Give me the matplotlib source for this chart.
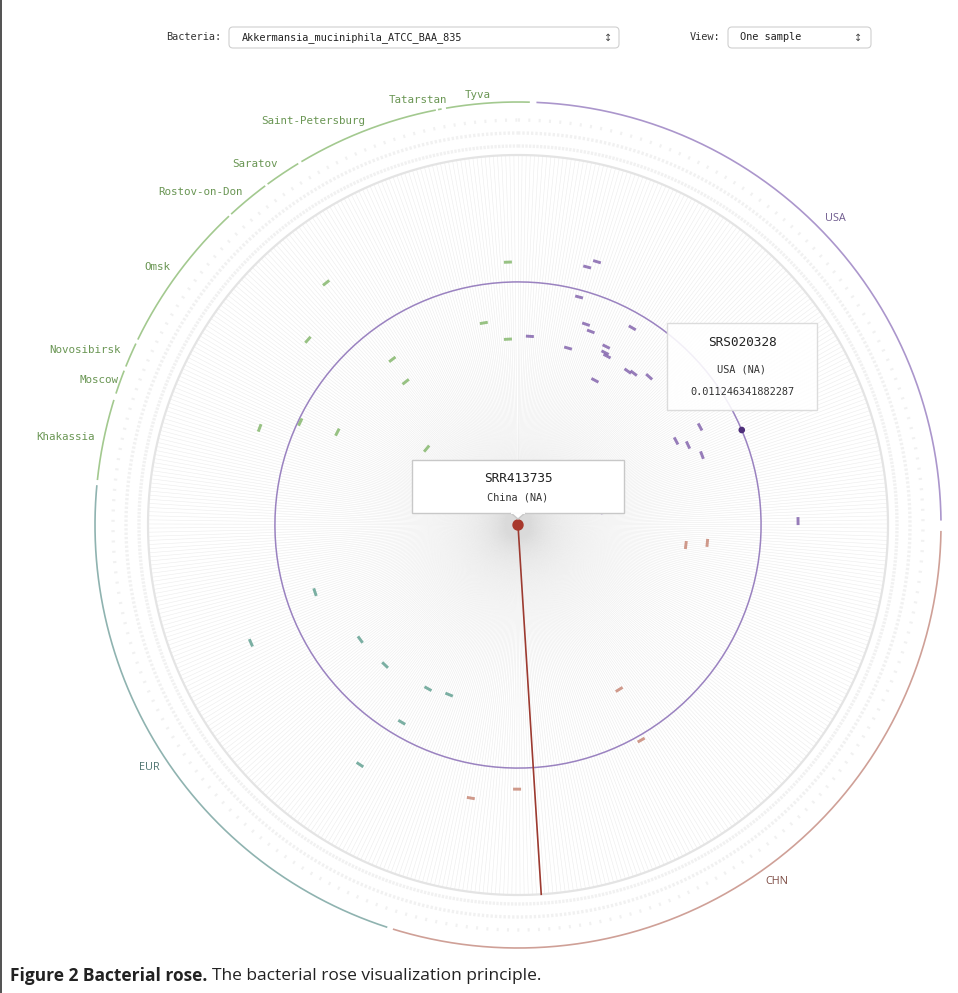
import matplotlib
matplotlib.use("Agg")
import matplotlib.pyplot as plt
import numpy as np
from matplotlib.patches import FancyBboxPatch, Polygon, Circle

# ── data ────────────────────────────────────────────────────────────────────
# outer region arcs (compass degrees, clockwise from top)
region_names  = ["USA", "CHN", "EUR"]
region_start  = [2.5, 90.8, 198.0]
region_end    = [89.4, 197.2, 275.4]
region_colors = ["#ab96cc", "#cfa097", "#8fb3b0"]
region_text   = ["#6e5a8e", "#7d4c44", "#4f7470"]

city_names = ["Khakassia", "Moscow", "Novosibirsk", "Omsk", "Rostov-on-Don",
              "Saratov", "Saint-Petersburg", "Tatarstan", "Tyva"]
city_start = [276.1, 288.1, 292.0, 296.0, 317.3, 323.7, 329.2, 349.1, 350.2]
city_end   = [287.2, 291.4, 295.4, 316.9, 323.3, 328.7, 348.8, 349.6, 361.6]

# samples per region (spokes)
n_samples = [150, 175, 130, 110]

# abundance marks: angle (deg) and radial level (fraction of spoke radius)
green_ang  = [357.8, 350.4, 356.9, 322.8, 321.9, 321.6, 311.4, 290.6, 295.3, 297.2, 309.9]
green_lvl  = [0.711, 0.554, 0.503, 0.562, 0.492, 0.835, 0.757, 0.746, 0.651, 0.549, 0.322]
purple_ang = [16.7, 15.0, 15.0, 18.7, 20.6, 3.6, 15.8, 30.1, 26.3, 26.8, 27.8,
              28.0, 35.5, 37.3, 41.5, 62.0, 64.8, 69.2, 61.7, 31.4, 32.2, 80.0, 89.2]
purple_lvl = [0.743, 0.722, 0.638, 0.573, 0.559, 0.511, 0.497, 0.616, 0.538, 0.522, 0.516,
              0.443, 0.511, 0.516, 0.535, 0.484, 0.508, 0.532, 0.559, 0.186, 0.196, 0.230, 0.757]
brown_ang  = [96.8, 95.4, 148.4, 150.2, 180.2, 189.8]
brown_lvl  = [0.457, 0.514, 0.522, 0.670, 0.714, 0.749]
teal_ang   = [251.7, 246.2, 234.0, 223.5, 208.8, 202.1, 210.5, 213.4]
teal_lvl   = [0.578, 0.789, 0.527, 0.522, 0.505, 0.495, 0.619, 0.776]

selected_ang, selected_lvl = 176.4, 1.0      # SRR413735, China
hover_ang, hover_lvl = 67.0, 0.657           # SRS020328, USA
ref_level = 0.657                             # purple reference circle

# ── geometry ────────────────────────────────────────────────────────────────
CX, CY = 518, 525
R_SPOKE, R_OUTER = 370, 423


def pol(ang, r):
    a = np.radians(ang)
    return CX + r * np.sin(a), CY - r * np.cos(a)


def arc(ax, a0, a1, r, **kw):
    t = np.linspace(a0, a1, 300)
    x, y = pol(t, r)
    ax.plot(x, y, solid_capstyle="butt", **kw)


fig = plt.figure(figsize=(9.58, 9.93), dpi=100)
ax = fig.add_axes([0, 0, 1, 1])
ax.set_xlim(0, 958)
ax.set_ylim(993, 0)
ax.axis("off")

# ── spokes ──────────────────────────────────────────────────────────────────
spoke_ang = np.linspace(0, 360, sum(n_samples), endpoint=False)
for a in spoke_ang:
    x, y = pol(np.array([a, a]), np.array([0, R_SPOKE]))
    ax.plot(x, y, color="#dadada", lw=0.4, alpha=0.5, zorder=1)
arc(ax, 0, 360, R_SPOKE, color="#e4e4e4", lw=1.6, zorder=2)

# faint sample-label band
for r, dash in [(379, (0, (0.7, 0.4))), (392, (0, (0.7, 0.6))), (405, (0, (0.6, 2.5)))]:
    arc(ax, 0, 360, r, color="#f1f1f1", lw=2.4, linestyle=dash, zorder=1)

# reference circle
arc(ax, 0, 360, R_SPOKE * ref_level, color="#9a82c0", lw=1.1, zorder=3)

# ── outer arcs ──────────────────────────────────────────────────────────────
for name, a0, a1, c, tc in zip(region_names, region_start, region_end,
                               region_colors, region_text):
    arc(ax, a0, a1, R_OUTER, color=c, lw=1.2, zorder=3)
    lx, ly = pol((a0 + a1) / 2, 441)
    ax.text(lx, ly, name, color=tc, fontsize=7.8, family="Open Sans",
            ha="center", va="center")

for a0, a1 in zip(city_start, city_end):
    arc(ax, a0, a1, R_OUTER, color="#a3c98f", lw=1.2, zorder=3)

city_lab_ang = [281.0, 289.1, 292.0, 305.6, 316.3, 323.9, 333.1, 346.8, 354.7]
city_lab_r   = [461, 443, 467, 443, 460, 447, 453, 437, 432]
for name, a, r in zip(city_names, city_lab_ang, city_lab_r):
    lx, ly = pol(a, r)
    ax.text(lx, ly, name, color="#6a9654", fontsize=7.8,
            family="DejaVu Sans Mono", ha="center", va="center")

# ── abundance marks ─────────────────────────────────────────────────────────
def marks(angs, lvls, color):
    for a, l in zip(angs, lvls):
        r = l * R_SPOKE
        half = np.degrees(4.0 / r)
        x, y = pol(np.array([a - half, a + half]), np.array([r, r]))
        ax.plot(x, y, color=color, lw=2.1, alpha=0.85,
                solid_capstyle="butt", zorder=4)


marks(green_ang, green_lvl, "#86b86e")
marks(purple_ang, purple_lvl, "#8566ae")
marks(brown_ang, brown_lvl, "#c88877")
marks(teal_ang, teal_lvl, "#64a293")

# selected sample line + dot
x, y = pol(np.array([selected_ang, selected_ang]), np.array([0, R_SPOKE * selected_lvl]))
ax.plot(x, y, color="#9c3a30", lw=1.2, zorder=5)
ax.add_patch(Circle((CX, CY), 5, color="#a8382c", zorder=6))

hx, hy = pol(hover_ang, R_SPOKE * hover_lvl)
ax.add_patch(Circle((hx, hy), 2.6, color="#4e2f7a", zorder=6))

# ── tooltips ────────────────────────────────────────────────────────────────
mono = "DejaVu Sans Mono"
ax.add_patch(FancyBboxPatch((412, 460), 212, 53, boxstyle="square,pad=0",
                            fc="white", ec="#c8c8c8", lw=1.0, zorder=7))
ax.add_patch(Polygon([(511, 513), (525, 513), (518, 519)], closed=True,
                     fc="white", ec="#c8c8c8", lw=1.0, zorder=7))
ax.plot([511.8, 524.2], [513, 513], color="white", lw=1.4, zorder=8)
ax.text(518, 479, "SRR413735", family=mono, fontsize=9.2, ha="center",
        va="center", color="#222222", zorder=9)
ax.text(518, 498, "China (NA)", family=mono, fontsize=7.4, ha="center",
        va="center", color="#333333", zorder=9)

ax.add_patch(FancyBboxPatch((667, 323), 150, 87, boxstyle="square,pad=0",
                            fc="white", ec="#d8d8d8", lw=1.0, alpha=0.88, zorder=7))
ax.text(742, 343, "SRS020328", family=mono, fontsize=9.2, ha="center",
        va="center", color="#222222", zorder=9)
ax.text(742, 369, "USA (NA)", family=mono, fontsize=7.4, ha="center",
        va="center", color="#333333", zorder=9)
ax.text(742, 392, "0.011246341882287", family=mono, fontsize=7.4, ha="center",
        va="center", color="#333333", zorder=9)

# ── controls ────────────────────────────────────────────────────────────────
ax.text(221, 37, "Bacteria:", family=mono, fontsize=7.4, ha="right",
        va="center", color="#333333")
ax.add_patch(FancyBboxPatch((229, 27), 390, 21, boxstyle="round,pad=0,rounding_size=4",
                            fc="white", ec="#d0d0d0", lw=0.8))
ax.text(242, 37.5, "Akkermansia_muciniphila_ATCC_BAA_835", family=mono,
        fontsize=7.4, ha="left", va="center", color="#222222")
ax.text(608, 37.5, "\u2195", fontsize=7, ha="center", va="center", color="#444444")

ax.text(720, 37, "View:", family=mono, fontsize=7.4, ha="right",
        va="center", color="#333333")
ax.add_patch(FancyBboxPatch((728, 27), 143, 21, boxstyle="round,pad=0,rounding_size=4",
                            fc="white", ec="#d0d0d0", lw=0.8))
ax.text(740, 37.5, "One sample", family=mono, fontsize=7.4, ha="left",
        va="center", color="#222222")
ax.text(858, 37.5, "\u2195", fontsize=7, ha="center", va="center", color="#444444")

# ── frame and caption ───────────────────────────────────────────────────────
ax.plot([1.5, 1.5], [0, 993], color="#333333", lw=1.2)

fig.canvas.draw()
bold = ax.text(10, 976, "Figure 2 Bacterial rose.", family="Open Sans",
               fontsize=12.5, weight="bold", ha="left", va="center", color="#222222")
fig.canvas.draw()
bb = bold.get_window_extent()
x_end = ax.transData.inverted().transform((bb.x1, bb.y0))[0]
ax.text(x_end + 5, 976, "The bacterial rose visualization principle.",
        family="Open Sans", fontsize=12.5, ha="left", va="center", color="#222222")

fig.savefig("out.png", dpi=100)
